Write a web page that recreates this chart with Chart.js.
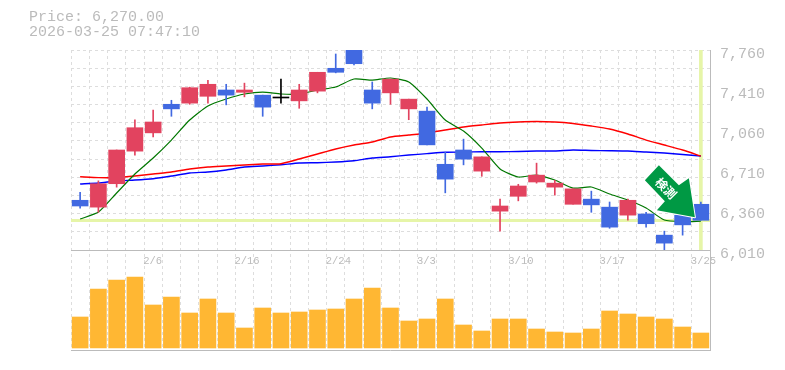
<!DOCTYPE html>
<html>
<head>
<meta charset="utf-8">
<style>
  body{margin:0;background:#fff;overflow:hidden}
  #wrap{position:relative;width:785px;height:370px}
  #head{position:absolute;left:29px;top:10px;font:15px/15px "Liberation Mono",monospace;color:#bbb;white-space:pre}
</style>
<script src="https://cdn.jsdelivr.net/npm/chart.js@4"></script>
</head>
<body>
<div id="wrap">
  <div id="head">Price: 6,270.00
2026-03-25 07:47:10</div>
  <canvas id="chart" width="785" height="370"></canvas>
</div>
<script>
const dias = ["1/29","1/30","2/2","2/3","2/6","2/9","2/10","2/11","2/12","2/16","2/17","2/18","2/19","2/20","2/24","2/25","2/26","2/27","3/2","3/3","3/4","3/5","3/6","3/9","3/10","3/11","3/12","3/13","3/16","3/17","3/18","3/19","3/20","3/24","3/25"];
const diasComRotulo = ["2/6","2/16","2/24","3/3","3/10","3/17","3/25"];

const abertura = [6445,6385,6590,6875,7035,7285,7295,7355,7410,7390,7365,7340,7315,7400,7600,7805,7410,7385,7245,7225,6760,6885,6700,6350,6480,6605,6560,6410,6455,6385,6315,6325,6140,6315,6410];
const fechamento = [6395,6590,6885,7080,7130,7245,7430,7460,7365,7410,7260,7340,7410,7565,7565,7640,7295,7505,7330,6930,6630,6805,6825,6395,6570,6665,6595,6545,6405,6210,6445,6240,6070,6230,6270];
const maximo = [6515,6615,6885,7150,7235,7320,7435,7495,7460,7470,7365,7505,7460,7565,7725,7805,7480,7505,7330,7260,6865,6980,6825,6455,6585,6770,6620,6545,6525,6430,6455,6340,6175,6315,6430];
const minimo = [6375,6340,6560,6840,7000,7180,7285,7295,7280,7350,7180,7295,7250,7385,7560,7630,7245,7285,7150,6930,6510,6755,6655,6175,6440,6595,6490,6410,6340,6200,6270,6210,6000,6140,6270];

const mediaCurta = [6281,6342,6509,6675,6815,6972,7147,7270,7331,7375,7392,7375,7375,7410,7436,7506,7497,7515,7480,7331,7147,7051,6902,6719,6649,6666,6622,6552,6561,6500,6447,6377,6272,6258,6262];
const mediaMedia = [6651,6643,6644,6657,6675,6692,6719,6736,6745,6754,6762,6765,6806,6850,6894,6929,6955,6999,7016,7034,7060,7086,7104,7121,7130,7134,7130,7117,7095,7069,7025,6972,6929,6885,6832];
const mediaLonga = [6587,6596,6614,6622,6634,6657,6684,6692,6710,6736,6745,6756,6771,6774,6780,6791,6815,6826,6841,6853,6865,6867,6870,6870,6872,6876,6876,6885,6881,6879,6876,6867,6859,6846,6832];

const volume = [31000,59000,68000,71000,43000,51000,35000,49000,35000,20000,40000,35000,36000,38000,39000,49000,60000,40000,27000,29000,49000,23000,17000,29000,29000,19000,16000,15000,19000,37000,34000,31000,29000,21000,15000];

const precoAtual = 6270;
const rotulosPreco = [7760,7410,7060,6710,6360,6010];
const linhasGrade = [7760,7601,7442,7283,7124,6965,6805,6646,6487,6328,6169,6010];

const VERMELHO = "#e2435f";
const AZUL = "#4169e1";
const CINZA = "#bbbbbb";
const GRADE = "#dddddd";
const VERDE_CLARO = "#e6f5a8";

function corVela(i){
  if(abertura[i] === fechamento[i]) return "#000000";
  return fechamento[i] > abertura[i] ? VERMELHO : AZUL;
}

const cores = dias.map((d, i) => corVela(i));

/* seta verde */
const seta = {
  id:"seta",
  afterDatasetsDraw(chart){
    const c = chart.ctx;
    const x = chart.scales.x.getPixelForValue(dias.length - 1);
    const y = chart.scales.y.getPixelForValue(precoAtual);
    c.save();
    c.translate(x - 6, y - 3);
    c.beginPath();
    c.moveTo(0,0);
    c.lineTo(-6,-39);
    c.lineTo(-16,-32);
    c.lineTo(-36,-52);
    c.lineTo(-50,-37);
    c.lineTo(-30,-16);
    c.lineTo(-38,-7);
    c.closePath();
    c.fillStyle = "#009944";
    c.strokeStyle = "#ffffff";
    c.lineWidth = 2;
    c.lineJoin = "round";
    c.stroke();
    c.fill();
    c.translate(-29,-29);
    c.rotate(Math.PI / 4);
    c.fillStyle = "#ffffff";
    c.font = "bold 12px 'Noto Sans CJK JP'";
    c.textAlign = "center";
    c.textBaseline = "middle";
    c.fillText("検測", 0, 0);
    c.restore();
  }
};

new Chart(document.getElementById("chart"), {
  type:"bar",
  plugins:[seta],
  data:{
    labels:dias,
    datasets:[
      {
        type:"line",
        data:mediaCurta,
        borderColor:"#007700",
        borderWidth:1.2,
        pointRadius:0,
        tension:.2,
        yAxisID:"y",
        order:3
      },
      {
        type:"line",
        data:mediaMedia,
        borderColor:"#ff0000",
        borderWidth:1.4,
        pointRadius:0,
        tension:.2,
        yAxisID:"y",
        order:4
      },
      {
        type:"line",
        data:mediaLonga,
        borderColor:"#0000ff",
        borderWidth:1.4,
        pointRadius:0,
        tension:.2,
        yAxisID:"y",
        order:5
      },
      {
        // linha vertical do ultimo pregao
        data:dias.map((d, i) => i === dias.length - 1 ? [rotulosPreco[5], rotulosPreco[0]] : null),
        backgroundColor:VERDE_CLARO,
        barThickness:3,
        grouped:false,
        yAxisID:"y",
        order:6
      },
      {
        data:dias.map((d, i) => [minimo[i], maximo[i]]),
        backgroundColor:cores,
        barThickness:1,
        grouped:false,
        yAxisID:"y",
        order:2
      },
      {
        data:dias.map((d, i) => [abertura[i], fechamento[i]]),
        backgroundColor:cores,
        barThickness:16,
        minBarLength:1,
        grouped:false,
        yAxisID:"y",
        order:1
      },
      {
        data:volume,
        backgroundColor:"#ffb733",
        barThickness:16,
        grouped:false,
        yAxisID:"yVol",
        order:7
      }
    ]
  },
  options:{
    responsive:false,
    animation:false,
    layout:{
      padding:{left:71, top:50, bottom:20, right:0}
    },
    plugins:{
      legend:{display:false},
      tooltip:{enabled:false}
    },
    scales:{
      x:{
        position:{y:rotulosPreco[5]},
        offset:true,
        grid:{color:GRADE, offset:true, tickLength:0, drawTicks:false},
        border:{display:false, dash:[3,3]},
        ticks:{
          autoSkip:false,
          maxRotation:0,
          align:"start",
          labelOffset:-10,
          padding:5,
          color:CINZA,
          font:{family:"Liberation Mono", size:10.5},
          callback(value){
            const d = dias[value];
            return diasComRotulo.includes(d) ? d : "";
          }
        }
      },
      y:{
        position:"right",
        stack:"painel",
        stackWeight:2,
        weight:1,
        min:rotulosPreco[5],
        max:rotulosPreco[0],
        afterBuildTicks(scale){
          const vals = [...new Set([...linhasGrade, ...rotulosPreco, precoAtual])];
          scale.ticks = vals.map(v => ({value:v}));
        },
        afterFit(scale){ scale.width = 75; },
        grid:{
          drawTicks:false,
          color(ctx){
            const v = ctx.tick.value;
            if(v === precoAtual) return VERDE_CLARO;
            if(v === rotulosPreco[5]) return CINZA;
            return linhasGrade.includes(v) ? GRADE : "rgba(0,0,0,0)";
          },
          lineWidth(ctx){
            return ctx.tick.value === precoAtual ? 3 : 1;
          }
        },
        border:{
          color:CINZA,
          dash(ctx){
            const v = ctx.tick ? ctx.tick.value : null;
            return v === precoAtual || v === rotulosPreco[5] ? [] : [3,3];
          }
        },
        ticks:{
          autoSkip:false,
          padding:10,
          labelOffset:4,
          color:CINZA,
          font:{family:"Liberation Mono", size:15},
          callback(value){
            return rotulosPreco.includes(value) ? value.toLocaleString("en-US") : "";
          }
        }
      },
      yVol:{
        position:"right",
        stack:"painel",
        stackWeight:1,
        weight:2,
        min:-2000,
        max:98000,
        afterBuildTicks(scale){
          scale.ticks = [{value:-2000}];
        },
        afterFit(scale){ scale.width = 75; },
        grid:{drawTicks:false, color:CINZA},
        border:{color:CINZA},
        ticks:{display:false}
      }
    }
  }
});
</script>
</body>
</html>
